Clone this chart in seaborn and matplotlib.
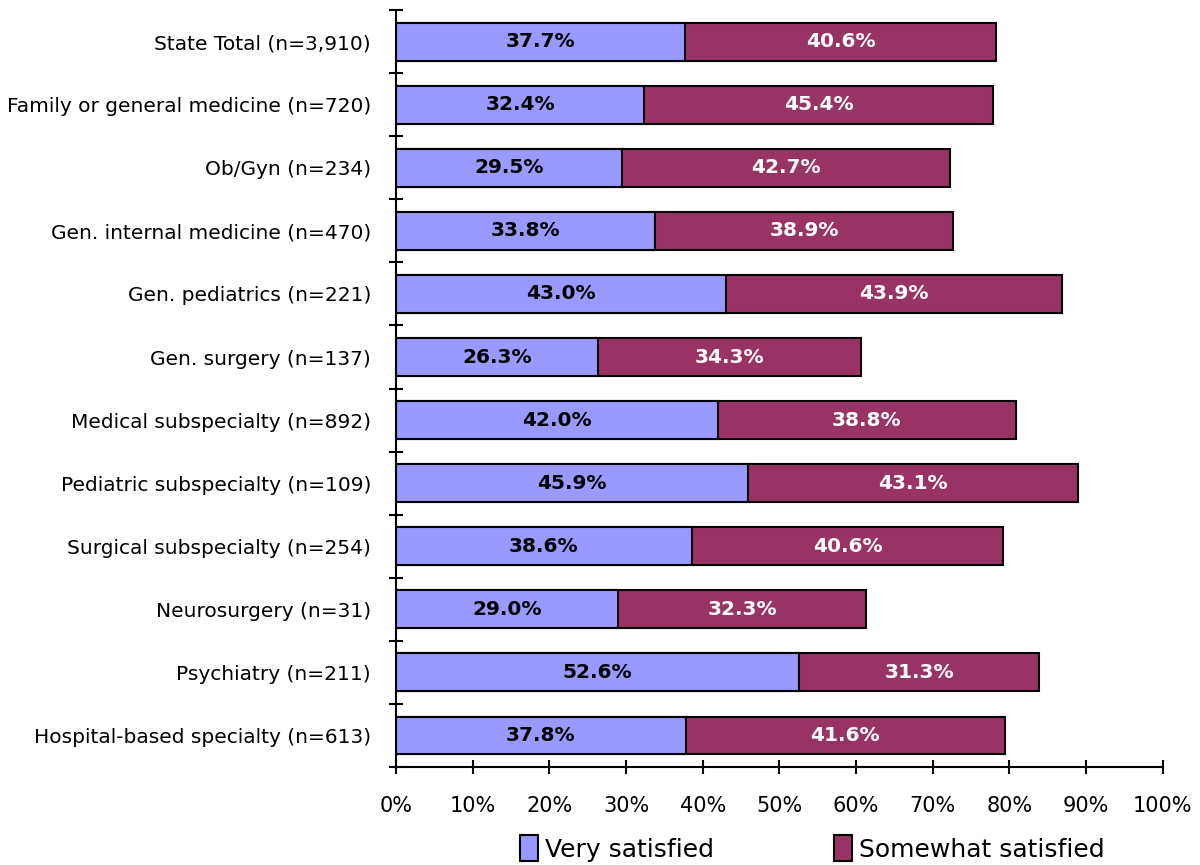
import matplotlib
matplotlib.use("Agg")
import matplotlib.pyplot as plt
import seaborn as sns
import pandas as pd
import numpy as np
from matplotlib.patches import Patch
from matplotlib.ticker import FixedLocator, PercentFormatter

categories = [
    "State Total (n=3,910)",
    "Family or general medicine (n=720)",
    "Ob/Gyn (n=234)",
    "Gen. internal medicine (n=470)",
    "Gen. pediatrics (n=221)",
    "Gen. surgery (n=137)",
    "Medical subspecialty (n=892)",
    "Pediatric subspecialty (n=109)",
    "Surgical subspecialty (n=254)",
    "Neurosurgery (n=31)",
    "Psychiatry (n=211)",
    "Hospital-based specialty (n=613)",
]
very_satisfied = [37.7, 32.4, 29.5, 33.8, 43.0, 26.3, 42.0, 45.9, 38.6, 29.0, 52.6, 37.8]
somewhat_satisfied = [40.6, 45.4, 42.7, 38.9, 43.9, 34.3, 38.8, 43.1, 40.6, 32.3, 31.3, 41.6]
x_ticks = [0, 10, 20, 30, 40, 50, 60, 70, 80, 90, 100]

sns.set_theme(style="white")
plt.rcParams["font.family"] = ["DejaVu Sans"]
plt.rcParams["text.color"] = "black"
plt.rcParams["xtick.color"] = "black"
plt.rcParams["ytick.color"] = "black"
plt.rcParams["xtick.labelcolor"] = "black"
plt.rcParams["ytick.labelcolor"] = "black"

df = pd.DataFrame({
    "category": categories,
    "very": very_satisfied,
    "somewhat": somewhat_satisfied,
})
df["total"] = df["very"] + df["somewhat"]

blue = "#9999FF"
maroon = "#993366"

fig = plt.figure(figsize=(12, 8.65), dpi=100)
ax = fig.add_axes([0.33, 0.1133, 0.639, 0.875])

sns.barplot(data=df, y="category", x="total", color=maroon, edgecolor="black",
            linewidth=1.5, width=0.6, saturation=1, ax=ax, orient="h")
sns.barplot(data=df, y="category", x="very", color=blue, edgecolor="black",
            linewidth=1.5, width=0.6, saturation=1, ax=ax, orient="h")

for i, (v, s) in enumerate(zip(very_satisfied, somewhat_satisfied)):
    ax.text(v / 2, i, f"{v:.1f}%", ha="center", va="center", fontsize=14.5,
            fontweight="bold", color="black")
    ax.text(v + s / 2, i, f"{s:.1f}%", ha="center", va="center", fontsize=14.5,
            fontweight="bold", color="white")

ax.set_xlim(0, 100)
ax.set_ylim(len(categories) - 0.5, -0.5)
ax.xaxis.set_major_locator(FixedLocator(x_ticks))
ax.xaxis.set_major_formatter(PercentFormatter(decimals=0))
ax.set_yticks(range(len(categories)))
ax.set_yticklabels(categories)
ax.yaxis.set_minor_locator(FixedLocator(np.arange(-0.5, len(categories), 1.0)))
ax.tick_params(axis="y", which="major", length=0, labelsize=14.5, pad=18)
ax.tick_params(axis="y", which="minor", length=10, width=1.5, direction="inout", left=True)
ax.tick_params(axis="x", which="major", length=10, width=1.5, direction="inout",
               bottom=True, labelsize=15, pad=16)
ax.set_xlabel("")
ax.set_ylabel("")
for side in ["top", "right"]:
    ax.spines[side].set_visible(False)
for side in ["left", "bottom"]:
    ax.spines[side].set_linewidth(1.5)
    ax.spines[side].set_color("black")

handles = [Patch(facecolor=blue, edgecolor="black", linewidth=1.5, label="Very satisfied"),
           Patch(facecolor=maroon, edgecolor="black", linewidth=1.5, label="Somewhat satisfied")]
fig.legend(handles=handles, loc="lower center", bbox_to_anchor=(0.677, -0.022), ncol=2,
           frameon=False, fontsize=18, handlelength=0.7, handleheight=1.2,
           handletextpad=0.3, columnspacing=4.8)

fig.savefig("out.png", dpi=100)
